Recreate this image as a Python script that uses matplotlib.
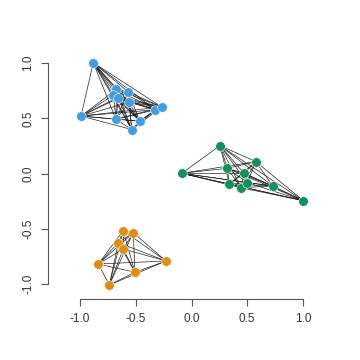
import itertools
import matplotlib
matplotlib.use("Agg")
import matplotlib.pyplot as plt

plt.rcParams['font.family'] = ['Liberation Sans', 'DejaVu Sans']

# Node coordinates per cluster
blue_x = [-0.881, -0.991, -0.674, -0.701, -0.657, -0.567, -0.559, -0.323, -0.267, -0.677, -0.465, -0.536]
blue_y = [1.003, 0.520, 0.762, 0.710, 0.681, 0.738, 0.644, 0.577, 0.602, 0.490, 0.475, 0.398]

green_x = [0.256, -0.088, 0.321, 0.578, 0.471, 0.339, 0.444, 0.500, 0.728, 1.003]
green_y = [0.252, 0.002, 0.047, 0.107, 0.002, -0.095, -0.129, -0.083, -0.113, -0.246]

orange_x = [-0.612, -0.522, -0.656, -0.612, -0.836, -0.229, -0.507, -0.737]
orange_y = [-0.518, -0.536, -0.626, -0.683, -0.819, -0.792, -0.894, -1.009]

clusters = [
    (blue_x, blue_y, "#3E9DE3"),
    (green_x, green_y, "#12905E"),
    (orange_x, orange_y, "#E38D0C"),
]

ticks = [-1.0, -0.5, 0.0, 0.5, 1.0]
tick_labels = ["-1.0", "-0.5", "0.0", "0.5", "1.0"]

fig = plt.figure(figsize=(3.6, 3.6), dpi=100)
# axes box in pixels: x 48..335, y 48..299 (from top)
ax = fig.add_axes([48/360, (360-299)/360, (335-48)/360, (299-48)/360])
ax.set_xlim(-1.287, 1.287)
ax.set_ylim(-1.136, 1.136)

for xs, ys, col in clusters:
    for i, j in itertools.combinations(range(len(xs)), 2):
        ax.plot([xs[i], xs[j]], [ys[i], ys[j]], color="#111111", lw=0.45, zorder=1)
for xs, ys, col in clusters:
    ax.scatter(xs, ys, s=48, color=col, edgecolors="white", linewidths=0.4, zorder=3)

for s in ["top", "right"]:
    ax.spines[s].set_visible(False)
for s in ["left", "bottom"]:
    ax.spines[s].set_color("#555555")
    ax.spines[s].set_linewidth(0.8)
    ax.spines[s].set_bounds(-1, 1)

ax.set_xticks(ticks)
ax.set_xticklabels(tick_labels)
ax.set_yticks(ticks)
ax.set_yticklabels(tick_labels, rotation=90, va="center")
ax.tick_params(axis="both", colors="#555555", labelcolor="#333333", labelsize=8.5, length=5, width=0.8, pad=5)

fig.savefig("out.png", dpi=100)
